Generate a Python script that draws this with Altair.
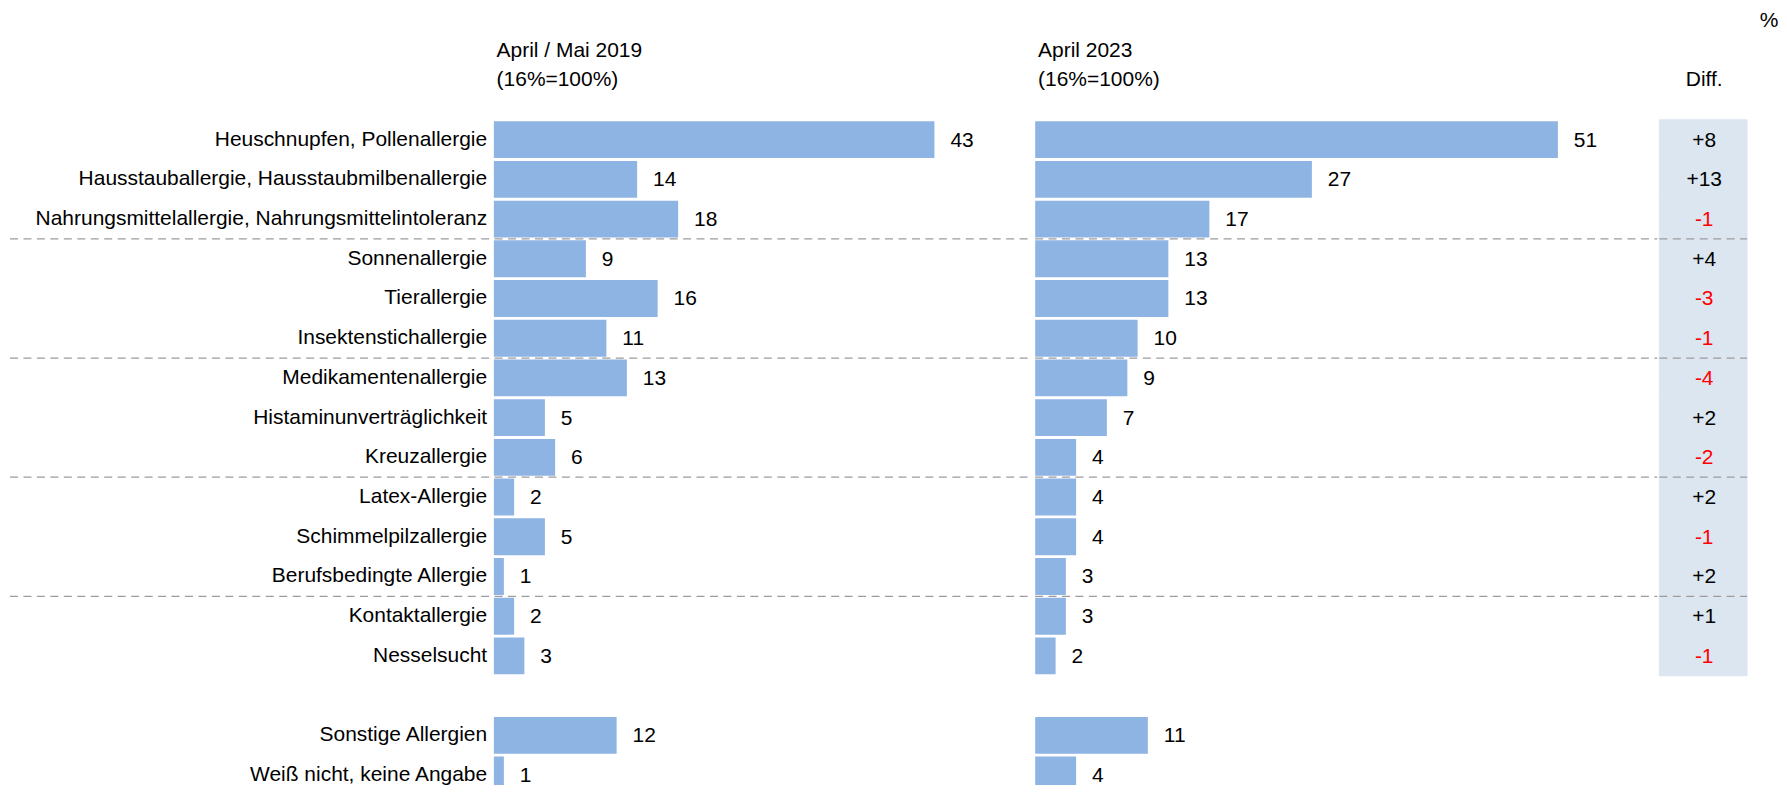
import altair as alt
import pandas as pd

# ---------------- data ----------------
categories = [
    "Heuschnupfen, Pollenallergie",
    "Hausstauballergie, Hausstaubmilbenallergie",
    "Nahrungsmittelallergie, Nahrungsmittelintoleranz",
    "Sonnenallergie",
    "Tierallergie",
    "Insektenstichallergie",
    "Medikamentenallergie",
    "Histaminunverträglichkeit",
    "Kreuzallergie",
    "Latex-Allergie",
    "Schimmelpilzallergie",
    "Berufsbedingte Allergie",
    "Kontaktallergie",
    "Nesselsucht",
    "Sonstige Allergien",
    "Weiß nicht, keine Angabe",
]
values_2019 = [43, 14, 18, 9, 16, 11, 13, 5, 6, 2, 5, 1, 2, 3, 12, 1]
values_2023 = [51, 27, 17, 13, 13, 10, 9, 7, 4, 4, 4, 3, 3, 2, 11, 4]
diff_labels = ["+8", "+13", "-1", "+4", "-3", "-1", "-4", "+2", "-2", "+2", "-1", "+2", "+1", "-1"]
separator_before = ["Sonnenallergie", "Medikamentenallergie", "Latex-Allergie", "Kontaktallergie"]

header_2019 = ["April / Mai 2019", "(16%=100%)"]
header_2023 = ["April 2023", "(16%=100%)"]
header_diff = "Diff."
unit_label = "%"

spacer = " "
row_order = categories[:14] + [spacer] + categories[14:]

df = pd.DataFrame({"cat": categories, "v2019": values_2019, "v2023": values_2023})
df_diff = pd.DataFrame({"cat": categories[:len(diff_labels)], "diff": diff_labels})
df_diff["neg"] = df_diff["diff"].str.startswith("-")
df_sep = pd.DataFrame({"cat": separator_before})

# ---------------- style ----------------
FONT = "Liberation Sans"
FS = 21
BAR = "#8EB4E3"
BOX = "#DCE6F1"
DASH = "#9C9C9C"
PX_PER_UNIT = 10.28
BAND_RANGE = 677      # full band range of the 17 rows (last row runs off the page)
H = 667               # visible plot height
W_LEFT, W_RIGHT, W_DIFF = 541, 624, 88

yscale = alt.Scale(domain=row_order, paddingInner=0, paddingOuter=0, range=[0, BAND_RANGE])
yaxis_labels = alt.Axis(
    title=None, ticks=False, domain=False, labelFontSize=FS, labelFont=FONT,
    labelColor="black", labelPadding=7, labelLimit=0,
)
no_border = alt.ViewBackground(stroke="transparent", strokeWidth=0)


def text_chart(txt, x, y, align="left"):
    return alt.Chart(pd.DataFrame({"t": [txt]})).mark_text(
        align=align, baseline="middle", fontSize=FS, font=FONT, color="black"
    ).encode(x=alt.value(x), y=alt.value(y), text="t:N")


def seps(x_start, width, yaxis):
    return alt.Chart(df_sep).mark_rule(strokeDash=[8, 5.5], color=DASH, strokeWidth=1.3).encode(
        y=alt.Y("cat:N", scale=yscale, bandPosition=0, axis=yaxis),
        x=alt.value(x_start),
        x2=alt.value(width),
    )


def panel(field, width, header, show_axis):
    xmax = width / PX_PER_UNIT
    yaxis = yaxis_labels if show_axis else None
    base = alt.Chart(df)
    xenc = alt.X(f"{field}:Q", scale=alt.Scale(domain=[0, xmax]), axis=None)
    yenc = alt.Y("cat:N", scale=yscale, axis=yaxis, sort=row_order)
    bars = base.mark_bar(color=BAR, height=37, clip=True).encode(x=xenc, y=yenc)
    labels = base.mark_text(
        align="left", baseline="middle", dx=16, dy=1, fontSize=FS, font=FONT, color="black"
    ).encode(x=xenc, y=yenc, text=f"{field}:Q")
    layers = [bars, labels, seps(-485 if show_axis else 0, width, yaxis),
              text_chart(header[0], 3, -69), text_chart(header[1], 3, -40)]
    return alt.layer(*layers).properties(width=width, height=H, view=no_border)


left = panel("v2019", W_LEFT, header_2019, True)
right = panel("v2023", W_RIGHT, header_2023, False)

bg = alt.Chart(df_diff).mark_rect(color=BOX, stroke=BOX, strokeWidth=1).encode(
    y=alt.Y("cat:N", scale=yscale, axis=None),
    x=alt.value(0),
    x2=alt.value(W_DIFF),
)
diff_text = alt.Chart(df_diff).mark_text(
    align="center", baseline="middle", dy=1, fontSize=FS, font=FONT
).encode(
    y=alt.Y("cat:N", scale=yscale, axis=None),
    x=alt.value(45),
    text="diff:N",
    color=alt.condition("datum.neg", alt.value("#FF0000"), alt.value("black")),
)
diff_panel = alt.layer(
    bg, seps(0, W_DIFF, None), diff_text,
    text_chart(header_diff, 45, -40, "center"),
    text_chart(unit_label, 110, -99, "center"),
).properties(width=W_DIFF, height=H, view=no_border)

chart = (
    alt.hconcat(left, right, diff_panel, spacing=0)
    .properties(padding={"left": 1, "top": 1, "right": 0, "bottom": 0})
    .configure(font=FONT)
    .configure_view(stroke="transparent", strokeWidth=0)
)

chart.save("out.html", embed_options={"renderer": "svg", "actions": False})
